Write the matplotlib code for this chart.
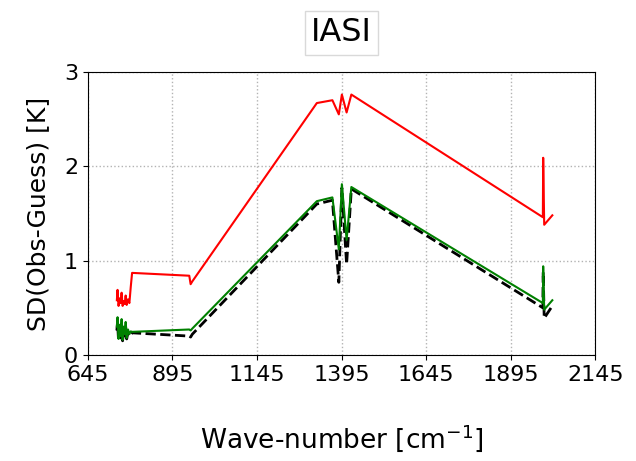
# IASI SD(Obs-Guess) per wave-number
import numpy as np
import matplotlib.pyplot as plt

# Make data
wn = [731, 733, 736, 739, 742, 745, 748, 751, 754, 757, 760, 764, 768, 772,
      776, 945, 949, 954, 1322, 1368, 1387, 1396, 1410, 1424, 1990, 1991,
      1994, 2018]
sd_red = [0.58, 0.69, 0.52, 0.60, 0.55, 0.66, 0.52, 0.57, 0.54, 0.63, 0.53,
          0.59, 0.55, 0.72, 0.87, 0.84, 0.75, 0.78, 2.67, 2.70, 2.55, 2.76,
          2.57, 2.76, 1.46, 2.09, 1.38, 1.48]
sd_black = [0.26, 0.35, 0.15, 0.28, 0.18, 0.33, 0.15, 0.27, 0.20, 0.30, 0.17,
            0.24, 0.21, 0.22, 0.235, 0.20, 0.19, 0.22, 1.60, 1.64, 0.77, 1.77,
            0.96, 1.76, 0.50, 0.88, 0.39, 0.52]
sd_green = [0.30, 0.40, 0.17, 0.32, 0.20, 0.38, 0.16, 0.30, 0.22, 0.35, 0.18,
            0.27, 0.22, 0.25, 0.245, 0.27, 0.26, 0.28, 1.63, 1.67, 1.12, 1.81,
            1.22, 1.78, 0.55, 0.94, 0.48, 0.58]

xticks = [645, 895, 1145, 1395, 1645, 1895, 2145]
yticks = [0, 1, 2, 3]

# Open a new plot
my_dpi = 100
fig = plt.figure(figsize=(636/my_dpi, 461/my_dpi), dpi=my_dpi)
ax = fig.add_axes([0.138, 0.230, 0.798, 0.614])

# Make plot
ax.plot(wn, sd_red, color='r', lw=1.5)
ax.plot(wn, sd_black, color='k', ls='--', lw=2)
ax.plot(wn, sd_green, color='g', lw=1.5)

ax.set_xlim(645, 2145)
ax.set_ylim(0, 3)
ax.set_xticks(xticks)
ax.set_yticks(yticks)
ax.tick_params(labelsize=16)
ax.grid(True, ls=':', color='0.7', lw=1)

ax.set_xlabel('Wave-number [cm$^{-1}$]', fontsize=19, labelpad=27)
ax.set_ylabel('SD(Obs-Guess) [K]', fontsize=18, labelpad=10)
ax.set_title('IASI', fontsize=23, pad=22,
             bbox=dict(facecolor='white', edgecolor='0.85', boxstyle='square,pad=0.2'))

# Save
plt.savefig('out.png', dpi=my_dpi)
